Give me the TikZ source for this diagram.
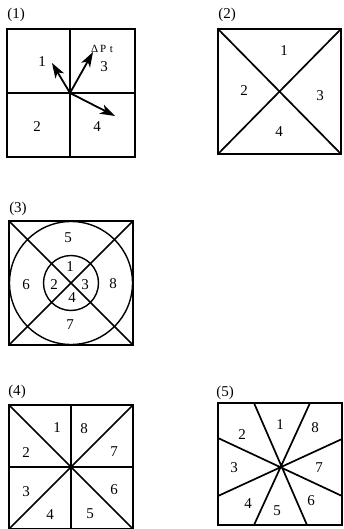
\documentclass[tikz,border=0pt]{standalone}
\usepackage{fontspec}
\setmainfont{Liberation Serif}
\usetikzlibrary{arrows.meta}
\begin{document}
\begin{tikzpicture}[x=1pt,y=-1pt,
  frame/.style={line width=1.4pt},
  cut/.style={line width=1.7pt},
  lbl/.style={font=\fontsize{15}{16}\selectfont,inner sep=0pt},
  vec/.style={line width=1.8pt,-{Stealth[length=15pt,width=10pt,inset=4pt]}}]
\useasboundingbox (0,0) rectangle (344,529);
% (1)
\node[lbl] (t1) at (16,15) {(1)};
\draw[frame] (7,29) rectangle (135,157);
\draw[frame] (70,29) -- (70,157) (7,93) -- (135,93);
\coordinate (c1) at (70,93);
\coordinate (a1) at (52,63);
\coordinate (a3) at (93,52);
\coordinate (a4) at (115,116);
\draw[vec] (c1) -- (a1);
\draw[vec] (c1) -- (a3);
\draw[vec] (c1) -- (a4);
\node[lbl] (n11) at (42,62) {1};
\node[lbl] (n13) at (104,67) {3};
\node[font=\fontsize{11}{12}\selectfont,inner sep=0pt] (dp) at (102,49) {Δ\,P\,\,t};
\node[lbl] (n12) at (37,127) {2};
\node[lbl] (n14) at (97,127) {4};
% (2)
\node[lbl] (t2) at (227,15) {(2)};
\draw[frame] (218,29) rectangle (341,154);
\draw[cut] (218,29) -- (341,154) (218,154) -- (341,29);
\node[lbl] (n21) at (284,51) {1};
\node[lbl] (n22) at (244,91) {2};
\node[lbl] (n23) at (320,96) {3};
\node[lbl] (n24) at (279,132) {4};
% (3)
\node[lbl] (t3) at (18,209) {(3)};
\draw[frame] (9,221) rectangle (133,345);
\draw[cut] (9,221) -- (133,345) (9,345) -- (133,221);
\draw[frame] (71,283) circle (61.5);
\draw[frame] (71,283) circle (27.5);
\node[lbl] (n35) at (68,238) {5};
\node[lbl] (n31) at (70,267) {1};
\node[lbl] (n32) at (54,285) {2};
\node[lbl] (n33) at (85,285) {3};
\node[lbl] (n34) at (72,298) {4};
\node[lbl] (n36) at (26,285) {6};
\node[lbl] (n38) at (113,284) {8};
\node[lbl] (n37) at (70,325) {7};
% (4)
\node[lbl] (t4) at (17,392) {(4)};
\draw[frame] (9,405) rectangle (133,529);
\draw[frame] (71,405) -- (71,529) (9,467) -- (133,467);
\draw[cut] (9,405) -- (133,529) (9,529) -- (133,405);
\node[lbl] (n41) at (57,428) {1};
\node[lbl] (n48) at (84,429) {8};
\node[lbl] (n42) at (26,453) {2};
\node[lbl] (n47) at (114,452) {7};
\node[lbl] (n43) at (26,492) {3};
\node[lbl] (n46) at (114,490) {6};
\node[lbl] (n44) at (50,515) {4};
\node[lbl] (n45) at (90,514) {5};
% (5)
\node[lbl] (t5) at (225,393) {(5)};
\draw[frame] (218,403) rectangle (342,525);
\draw[cut] (254,403) -- (307,525) (310,403) -- (254,525)
           (218,438) -- (342,496) (218,496) -- (342,439);
\node[lbl] (n51) at (280,425) {1};
\node[lbl] (n58) at (315,428) {8};
\node[lbl] (n52) at (242,435) {2};
\node[lbl] (n57) at (319,468) {7};
\node[lbl] (n53) at (234,468) {3};
\node[lbl] (n56) at (311,501) {6};
\node[lbl] (n54) at (248,504) {4};
\node[lbl] (n55) at (277,511) {5};
\end{tikzpicture}
\end{document}
